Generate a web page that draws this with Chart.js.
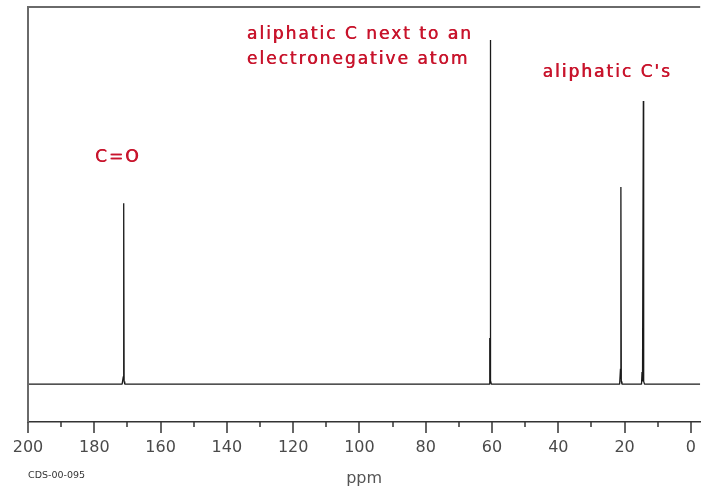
<!DOCTYPE html>
<html>
<head>
<meta charset="utf-8">
<script src="https://cdn.jsdelivr.net/npm/chart.js@4.4.1/dist/chart.umd.min.js"></script>
<style>
  html, body { margin: 0; padding: 0; background: #fff; }
  #wrap { width: 701px; height: 491px; }
</style>
</head>
<body>
<div id="wrap"><canvas id="nmr"></canvas></div>
<script>
// --- datos del espectro 13C (ppm / intensidad relativa, pico mayor = 100) ---
const shiftsPpm = [200, 171.6, 171.25, 171.15, 171.1, 171.0, 170.8,
                   60.9, 60.75, 60.62, 60.55, 60.5, 60.42, 60.2,
                   21.5, 21.25, 21.15, 21.1, 21.0, 20.8,
                   14.9, 14.75, 14.6, 14.35, 14.25, 14.0, -2.8];
const intensity = [0, 0, 2.2, 2.2, 52.6, 0.8, 0,
                   0, 13.4, 13.4, 2.0, 100, 1.0, 0,
                   0, 4.5, 1.5, 57.3, 0.8, 0,
                   0, 3.5, 0.8, 82.3, 0.8, 0, 0];

// ejes
const majorTicks = [200, 180, 160, 140, 120, 100, 80, 60, 40, 20, 0];
const minorTicks = [190, 170, 150, 130, 110, 90, 70, 50, 30, 10];
const xRange = [-2.8, 200];
const yRange = [-11, 109.6];

// anotaciones (texto, ppm de inicio, intensidad del centro)
const noteText = ['C=O', 'aliphatic C next to an', 'electronegative atom', "aliphatic C's"];
const notePpm = [179.8, 134.0, 134.0, 44.8];
const noteLevel = [65.7, 101.5, 94.2, 90.4];

const points = shiftsPpm.map((x, i) => ({ x: x, y: intensity[i] }));

// marco, marcas del eje y textos
const framePlugin = {
  id: 'frame',
  afterDraw(chart) {
    const ctx = chart.ctx;
    const a = chart.chartArea;
    const xs = chart.scales.x;
    const ys = chart.scales.y;
    ctx.save();
    // borde superior e izquierdo
    ctx.strokeStyle = '#6a6a6a';
    ctx.lineWidth = 2;
    ctx.beginPath();
    ctx.moveTo(a.left, a.bottom);
    ctx.lineTo(a.left, a.top);
    ctx.lineTo(a.right, a.top);
    ctx.stroke();
    // marcas del eje
    ctx.strokeStyle = '#333';
    ctx.lineWidth = 1.5;
    majorTicks.forEach(v => {
      const px = Math.round(xs.getPixelForValue(v));
      ctx.beginPath(); ctx.moveTo(px, a.bottom); ctx.lineTo(px, a.bottom + 11); ctx.stroke();
    });
    minorTicks.forEach(v => {
      const px = Math.round(xs.getPixelForValue(v));
      ctx.beginPath(); ctx.moveTo(px, a.bottom); ctx.lineTo(px, a.bottom + 5); ctx.stroke();
    });
    // anotaciones en rojo
    ctx.fillStyle = '#c8142c';
    ctx.font = '17px "Comic Sans MS", "DejaVu Sans", cursive';
    ctx.textBaseline = 'middle';
    ctx.textAlign = 'left';
    if ('letterSpacing' in ctx) ctx.letterSpacing = '2px';
    noteText.forEach((t, i) => {
      const px = xs.getPixelForValue(notePpm[i]);
      const py = ys.getPixelForValue(noteLevel[i]);
      ctx.fillText(t, px, py);
      ctx.fillText(t, px + 0.6, py);   // trazo algo más grueso, como a mano
    });
    if ('letterSpacing' in ctx) ctx.letterSpacing = '0px';
    // código del espectro
    ctx.fillStyle = '#333';
    ctx.font = '9.5px "DejaVu Sans", Verdana, sans-serif';
    ctx.fillText('CDS-00-095', a.left, 476);
    ctx.restore();
  }
};

new Chart(document.getElementById('nmr'), {
  type: 'line',
  data: {
    datasets: [{
      data: points,
      borderColor: '#1a1a1a',
      borderWidth: 1.3,
      borderJoinStyle: 'bevel',
      pointRadius: 0,
      tension: 0,
      fill: false
    }]
  },
  options: {
    responsive: true,
    maintainAspectRatio: false,
    animation: false,
    layout: { padding: { top: 7, left: 28, right: 0, bottom: 0 } },
    plugins: {
      legend: { display: false },
      tooltip: { enabled: false }
    },
    scales: {
      x: {
        type: 'linear',
        reverse: true,
        min: xRange[0],
        max: xRange[1],
        afterBuildTicks(scale) {
          scale.ticks = majorTicks.map(v => ({ value: v }));
        },
        afterFit(scale) { scale.height = 69; },
        grid: { display: false, drawTicks: true, tickLength: 11 },
        border: { display: true, color: '#333', width: 1.5 },
        ticks: {
          color: '#4a4a4a',
          padding: 5,
          maxRotation: 0,
          autoSkip: false,
          font: { family: '"DejaVu Sans", Verdana, sans-serif', size: 16 }
        },
        title: {
          display: true,
          text: 'ppm',
          color: '#555',
          padding: { top: 0, bottom: 3 },
          font: { family: '"DejaVu Sans", Verdana, sans-serif', size: 16, weight: 'normal' }
        }
      },
      y: {
        display: false,
        min: yRange[0],
        max: yRange[1]
      }
    }
  },
  plugins: [framePlugin]
});
</script>
</body>
</html>
